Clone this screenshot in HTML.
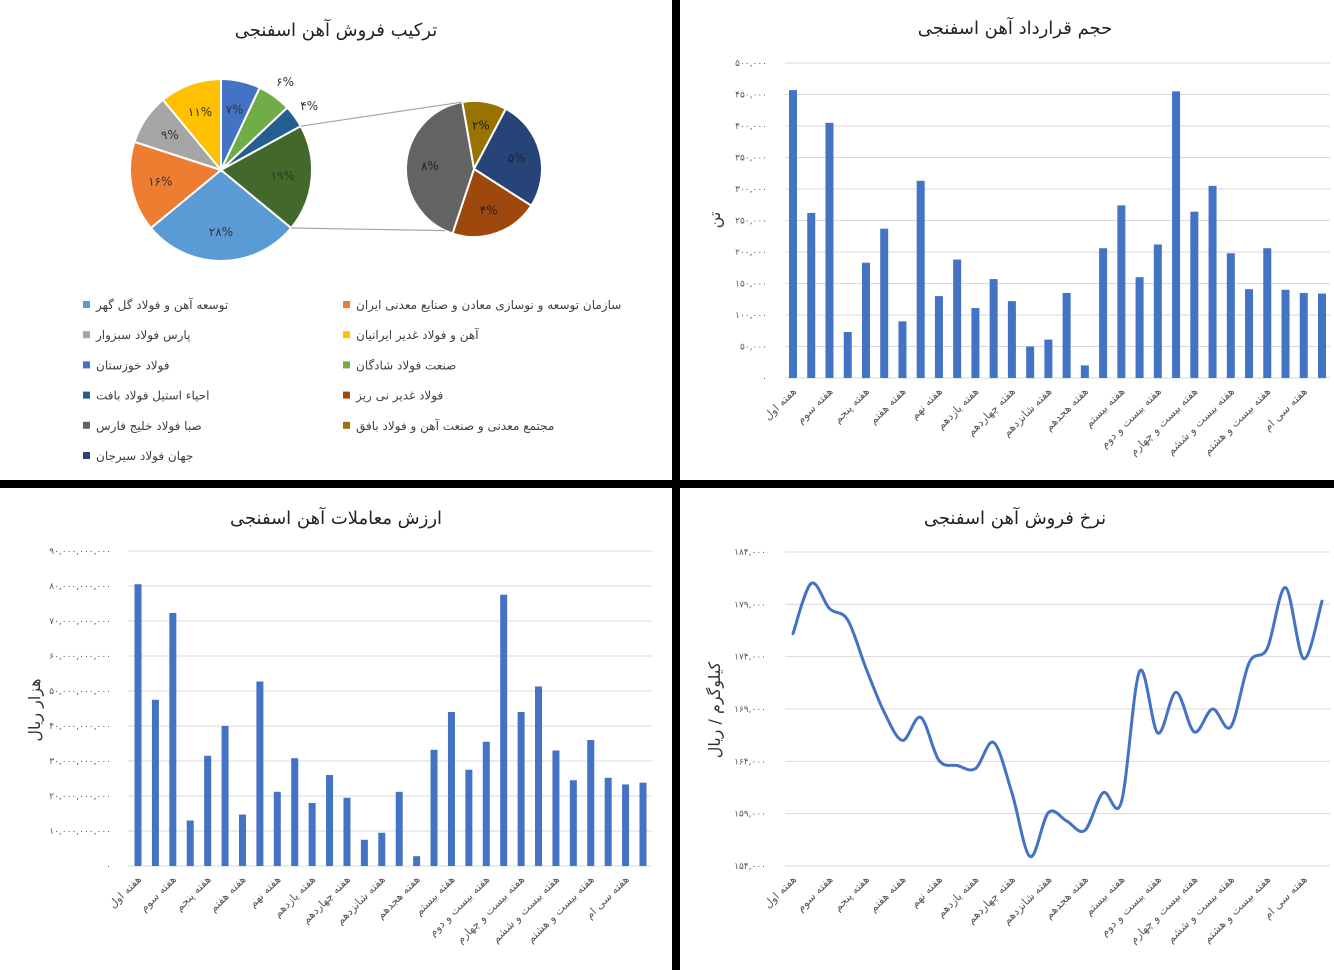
<!DOCTYPE html>
<html><head><meta charset="utf-8">
<style>
html,body{margin:0;padding:0;background:#fff;}
svg{display:block;}
text{font-family:"DejaVu Sans","Liberation Sans",sans-serif;}
</style></head>
<body>
<svg id="root" width="1334" height="970" viewBox="0 0 1334 970" xmlns="http://www.w3.org/2000/svg">
  <rect x="0" y="0" width="1334" height="970" fill="#fff"/>
  <rect x="672" y="0" width="8" height="970" fill="#000"/>
  <rect x="0" y="480" width="1334" height="8" fill="#000"/>
  <text x="336" y="36" text-anchor="middle" font-size="18" fill="#222">ترکیب فروش آهن اسفنجی</text>
  <text x="1015" y="34" text-anchor="middle" font-size="18" fill="#222">حجم قرارداد آهن اسفنجی</text>
  <text x="336" y="524" text-anchor="middle" font-size="18" fill="#222">ارزش معاملات آهن اسفنجی</text>
  <text x="1015" y="524" text-anchor="middle" font-size="18" fill="#222">نرخ فروش آهن اسفنجی</text>
  <text transform="translate(720,220) rotate(-90)" text-anchor="middle" font-size="16" fill="#333">تن</text>
  <text transform="translate(40,710) rotate(-90)" text-anchor="middle" font-size="16" fill="#333">هزار ریال</text>
  <text transform="translate(720,710) rotate(-90)" text-anchor="middle" font-size="16" fill="#333">کیلوگرم / ریال</text>
  <g id="pie"></g>
  <g id="legend"></g>
  <g id="vol"></g>
  <g id="val"></g>
  <g id="price"></g>
</svg>
<script>
// ---- data ----
const weekLabels = ["هفته اول","هفته دوم","هفته سوم","هفته چهارم","هفته پنجم","هفته ششم","هفته هفتم","هفته هشتم","هفته نهم","هفته دهم","هفته یازدهم","هفته دوازدهم","هفته چهاردهم","هفته پانزدهم","هفته شانزدهم","هفته هفدهم","هفته هجدهم","هفته نوزدهم","هفته بیستم","هفته بیست و یکم","هفته بیست و دوم","هفته بیست و سوم","هفته بیست و چهارم","هفته بیست و پنجم","هفته بیست و ششم","هفته بیست و هفتم","هفته بیست و هشتم","هفته بیست و نهم","هفته سی ام","هفته سی و یکم"];
const volumeValues = [457000,262000,405000,73000,183000,237000,90000,313000,130000,188000,111000,157000,122000,50000,61000,135000,20000,206000,274000,160000,212000,455000,264000,305000,198000,141000,206000,140000,135000,134000];
const volumeTicks = [0,50000,100000,150000,200000,250000,300000,350000,400000,450000,500000];
const valueValues = [80.5e9,47.5e9,72.3e9,13e9,31.5e9,40e9,14.7e9,52.7e9,21.2e9,30.8e9,18e9,26e9,19.5e9,7.5e9,9.5e9,21.2e9,2.8e9,33.2e9,44e9,27.5e9,35.5e9,77.5e9,44e9,51.3e9,33e9,24.5e9,36e9,25.2e9,23.3e9,23.8e9];
const valueTicks = [0,10e9,20e9,30e9,40e9,50e9,60e9,70e9,80e9,90e9];
const priceValues = [176200,181000,178600,177500,172900,168700,166000,168200,164100,163600,163300,165800,161000,154900,159100,158300,157400,161000,160100,172600,166700,170600,166800,169000,167300,173400,174800,180600,173800,179300];
const priceTicks = [154000,159000,164000,169000,174000,179000,184000];
const pieNames = ["فولاد خوزستان","صنعت فولاد شادگان","احیاء استیل فولاد بافت","سایر","توسعه آهن و فولاد گل گهر","سازمان توسعه و نوسازی معادن و صنایع معدنی ایران","پارس فولاد سبزوار","آهن و فولاد غدیر ایرانیان"];
const pieValues = [7,6,4,19,28,16,9,11];
const pieColors = ["#4472c4","#70ad47","#255e91","#43682b","#5b9bd5","#ed7d31","#a5a5a5","#ffc000"];
const subNames = ["مجتمع معدنی و صنعت آهن و فولاد بافق","جهان فولاد سیرجان","فولاد غدیر نی ریز","صبا فولاد خلیج فارس"];
const subValues = [2,5,4,8];
const subColors = ["#997300","#264478","#9e480e","#636363"];
const legendLeft = [["توسعه آهن و فولاد گل گهر","#5b9bd5"],["پارس فولاد سبزوار","#a5a5a5"],["فولاد خوزستان","#4472c4"],["احیاء استیل فولاد بافت","#255e91"],["صبا فولاد خلیج فارس","#636363"],["جهان فولاد سیرجان","#264478"]];
const legendRight = [["سازمان توسعه و نوسازی معادن و صنایع معدنی ایران","#ed7d31"],["آهن و فولاد غدیر ایرانیان","#ffc000"],["صنعت فولاد شادگان","#70ad47"],["فولاد غدیر نی ریز","#9e480e"],["مجتمع معدنی و صنعت آهن و فولاد بافق","#997300"]];

const NS="http://www.w3.org/2000/svg";
function mk(tag,attrs,parent){const e=document.createElementNS(NS,tag);for(const k in attrs)e.setAttribute(k,attrs[k]);if(parent)parent.appendChild(e);return e;}
function fa(n){const s=Math.round(n).toLocaleString('en-US');return s.replace(/[0-9]/g,d=>"۰۱۲۳۴۵۶۷۸۹"[d]);}

// ---- pie ----
const pieG=document.getElementById('pie');
function polar(cx,cy,r,deg){const a=(deg-90)*Math.PI/180;return [cx+r*Math.cos(a),cy+r*Math.sin(a)];}
function slice(g,cx,cy,r,a0,a1,color){
  const p0=polar(cx,cy,r,a0),p1=polar(cx,cy,r,a1);const large=(a1-a0)>180?1:0;
  return mk('path',{d:`M${cx},${cy} L${p0[0]},${p0[1]} A${r},${r} 0 ${large} 1 ${p1[0]},${p1[1]} Z`,fill:color,stroke:'#fff','stroke-width':2},g);
}
const mcx=221,mcy=170,mr=91;
const pTotal=pieValues.reduce((a,b)=>a+b,0);
let acc=0;let otherStart=0,otherEnd=0;
pieValues.forEach((v,i)=>{
  const a0=acc/pTotal*360,a1=(acc+v)/pTotal*360;acc+=v;
  const s=slice(pieG,mcx,mcy,mr,a0,a1,pieColors[i]);
  
  
  if(i===3){otherStart=a0;otherEnd=a1;}
  const mid=(a0+a1)/2;const lr=v<=6?mr+18:mr*0.68;
  const lp=polar(mcx,mcy,lr,mid);
  const t=mk('text',{x:lp[0],y:lp[1]+4,'text-anchor':'middle','font-size':12,fill:'#333'},pieG);
  t.textContent=fa(v)+'%';
  
  
});
const scx=474,scy=169,sr=68;
const sTotal=subValues.reduce((a,b)=>a+b,0);
let sacc=0;const sOff=-10;
subValues.forEach((v,i)=>{
  const a0=sOff+sacc/sTotal*360,a1=sOff+(sacc+v)/sTotal*360;sacc+=v;
  const s=slice(pieG,scx,scy,sr,a0,a1,subColors[i]);
  
  
  const lp=polar(scx,scy,sr*0.65,(a0+a1)/2);
  const t=mk('text',{x:lp[0],y:lp[1]+4,'text-anchor':'middle','font-size':12,fill:'#222'},pieG);
  t.textContent=fa(v)+'%';
  
  
});
{
  const a=polar(mcx,mcy,mr,otherStart),b=polar(scx,scy,sr,sOff);
  const c=polar(mcx,mcy,mr,otherEnd),d=polar(scx,scy,sr,205);
  const l1=mk('line',{x1:a[0],y1:a[1],x2:b[0],y2:b[1],stroke:'#a6a6a6','stroke-width':1.2},pieG);
  
  
  const l2=mk('line',{x1:c[0],y1:c[1],x2:d[0],y2:d[1],stroke:'#a6a6a6','stroke-width':1.2},pieG);
  
  
}
// legend
const legG=document.getElementById('legend');
function legendCol(items,mx){
  items.forEach((it,i)=>{
    const y=305+i*30.2;
    const g=mk('g',{},legG);
    
    
    mk('rect',{x:mx,y:y-4,width:7,height:7,fill:it[1]},g);
    const t=mk('text',{x:mx+13,y:y+4,'font-size':12,fill:'#404040'},g);
    t.textContent=it[0];
  });
}
legendCol(legendLeft,83);
legendCol(legendRight,343);

// ---- axes helpers ----
function yAxis(g,ticks,min,max,yBot,yTop,xL,xR,labelX){
  const ys=v=>yBot-(v-min)/(max-min)*(yBot-yTop);
  ticks.forEach(v=>{
    const l=mk('line',{x1:xL,x2:xR,y1:ys(v),y2:ys(v),stroke:'#d9d9d9','stroke-width':1},g);
    
    
    const t=mk('text',{x:labelX,y:ys(v)+3,'text-anchor':'end','font-size':9,fill:'#595959'},g);
    t.textContent=fa(v);
    
    
  });
  return ys;
}
function xLabels(g,cats,xs,yAxisY){
  cats.forEach((c,i)=>{
    if(i%2)return;
    const x=xs(i)+4,y=yAxisY+14;
    const t=mk('text',{transform:`translate(${x},${y}) rotate(-45)`,'text-anchor':'end','font-size':11,fill:'#595959'},g);
    t.textContent=c;
    
    
  });
}
function barChart(gid,vals,ticks,yBot,yTop,xL,xR,labelX,x0,x1,bw){
  const g=document.getElementById(gid);
  const min=ticks[0],max=ticks[ticks.length-1];
  const ys=yAxis(g,ticks,min,max,yBot,yTop,xL,xR,labelX);
  const xs=i=>x0+i*(x1-x0)/(vals.length-1);
  vals.forEach((v,i)=>{
    const r=mk('rect',{x:xs(i)-bw/2,y:ys(v),width:bw,height:ys(min)-ys(v),fill:'#4472c4'},g);
    
    
  });
  xLabels(g,weekLabels,xs,yBot);
}
barChart('vol',volumeValues,volumeTicks,378,63,785,1330,767,793,1322,8);
barChart('val',valueValues,valueTicks,866,551,128,652,111,138,643,7);

// line chart
{
  const g=document.getElementById('price');
  const min=priceTicks[0],max=priceTicks[priceTicks.length-1];
  const ys=yAxis(g,priceTicks,min,max,866,552,785,1330,766);
  const xs=i=>793+i*(1322-793)/(priceValues.length-1);
  const pts=priceValues.map((v,i)=>[xs(i),ys(v)]);
  let d=`M${pts[0][0]},${pts[0][1]}`;
  const tension=0.5/3*2*0.5*2/1.0*0.5;
  for(let i=0;i<pts.length-1;i++){
    const p0=pts[i-1]||pts[i],p1=pts[i],p2=pts[i+1],p3=pts[i+2]||p2;
    const k=1/6;
    const c1=[p1[0]+(p2[0]-p0[0])*k,p1[1]+(p2[1]-p0[1])*k];
    const c2=[p2[0]-(p3[0]-p1[0])*k,p2[1]-(p3[1]-p1[1])*k];
    d+=` C${c1[0]},${c1[1]} ${c2[0]},${c2[1]} ${p2[0]},${p2[1]}`;
  }
  const path=mk('path',{d:d,fill:'none',stroke:'#4472c4','stroke-width':3,'stroke-linecap':'round'},g);
  
  
  xLabels(g,weekLabels,xs,866);
}
</script>
</body></html>
